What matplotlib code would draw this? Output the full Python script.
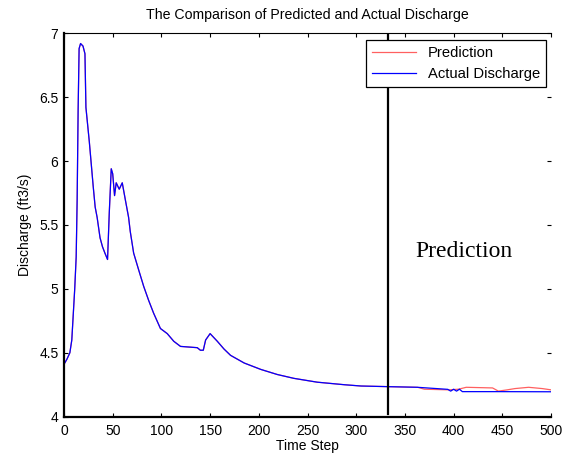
import matplotlib
matplotlib.use("Agg")
import matplotlib.pyplot as plt

plt.rcParams['font.family'] = ['Liberation Sans', 'DejaVu Sans']

# observed discharge, shared by both curves up to the split point
t_hist = [0, 3, 6, 8, 9.5, 11, 12.5, 13.5, 14.5, 15.5, 17, 19.5, 21.5, 22.5, 26,
          30, 32, 34, 37, 39.5, 42, 44.7, 46.5, 48.5, 50, 51.9, 53.6, 56.7, 59.8,
          62.9, 66.3, 68, 71.5, 76.6, 81.8, 86.9, 92, 99, 106, 112.7, 119.6,
          136.8, 140, 143, 145.4, 150, 157.4, 164.2, 171, 185, 202, 219, 236,
          252, 260, 288, 305, 333]
q_hist = [4.41, 4.45, 4.50, 4.60, 4.80, 5.00, 5.25, 5.70, 6.40, 6.88, 6.92, 6.90,
          6.84, 6.42, 6.15, 5.80, 5.64, 5.56, 5.40, 5.33, 5.28, 5.23, 5.60, 5.94,
          5.90, 5.73, 5.83, 5.78, 5.83, 5.70, 5.56, 5.45, 5.28, 5.15, 5.02, 4.91,
          4.81, 4.69, 4.65, 4.59, 4.55, 4.54, 4.52, 4.52, 4.60, 4.65, 4.59, 4.53,
          4.48, 4.42, 4.37, 4.33, 4.30, 4.28, 4.27, 4.25, 4.24, 4.235]

# after the split
t_actual_tail = [363, 394, 397, 400, 403, 406, 409, 446, 500]
q_actual_tail = [4.23, 4.214, 4.20, 4.215, 4.20, 4.215, 4.196, 4.196, 4.195]
t_pred_tail = [363, 370, 395, 405, 413, 440, 446, 455, 463, 477, 491, 500]
q_pred_tail = [4.23, 4.215, 4.21, 4.215, 4.23, 4.225, 4.20, 4.21, 4.22, 4.23, 4.22, 4.21]

split_step = 333

fig = plt.figure(figsize=(5.72, 4.58), dpi=100)
ax = fig.add_axes([0.1119, 0.0902, 0.8514, 0.8371])

ax.plot(t_hist + t_pred_tail, q_hist + q_pred_tail, color='#ff6060', lw=0.9, label='Prediction')
ax.plot(t_hist + t_actual_tail, q_hist + q_actual_tail, color='#0000ff', lw=0.9, label='Actual Discharge')
ax.plot([split_step, split_step], [4.02, 7], color='black', lw=1.6)

ax.text(411, 5.29, 'Prediction', family='Liberation Serif', fontsize=17,
        ha='center', va='center')

ax.set_xlim(0, 500)
ax.set_ylim(4, 7)
ax.set_xticks(range(0, 501, 50))
ax.set_yticks([4, 4.5, 5, 5.5, 6, 6.5, 7])
ax.set_yticklabels(['4', '4.5', '5', '5.5', '6', '6.5', '7'])
ax.tick_params(direction='in', top=True, right=True, length=3, width=0.8,
               labelsize=10)
ax.tick_params(axis='x', pad=5)
ax.tick_params(axis='y', pad=4)

ax.spines['right'].set_visible(False)
ax.spines['top'].set_linewidth(0.8)
ax.spines['left'].set_linewidth(1.6)
ax.spines['bottom'].set_linewidth(1.6)

ax.set_title('The Comparison of Predicted and Actual Discharge', fontsize=10.2, pad=10)
ax.set_xlabel('Time Step', fontsize=10, labelpad=1)
ax.set_ylabel('Discharge (ft3/s)', fontsize=10, labelpad=5)

leg = ax.legend(loc='upper right', bbox_to_anchor=(546 / 572, 1 - 40 / 458),
                bbox_transform=fig.transFigure, borderaxespad=0, fancybox=False,
                edgecolor='black', framealpha=1, fontsize=10.6, handlelength=3.0,
                labelspacing=0.5, borderpad=0.4)
leg.get_frame().set_linewidth(0.9)
leg.set_zorder(5)

fig.savefig('out.png', dpi=100)
